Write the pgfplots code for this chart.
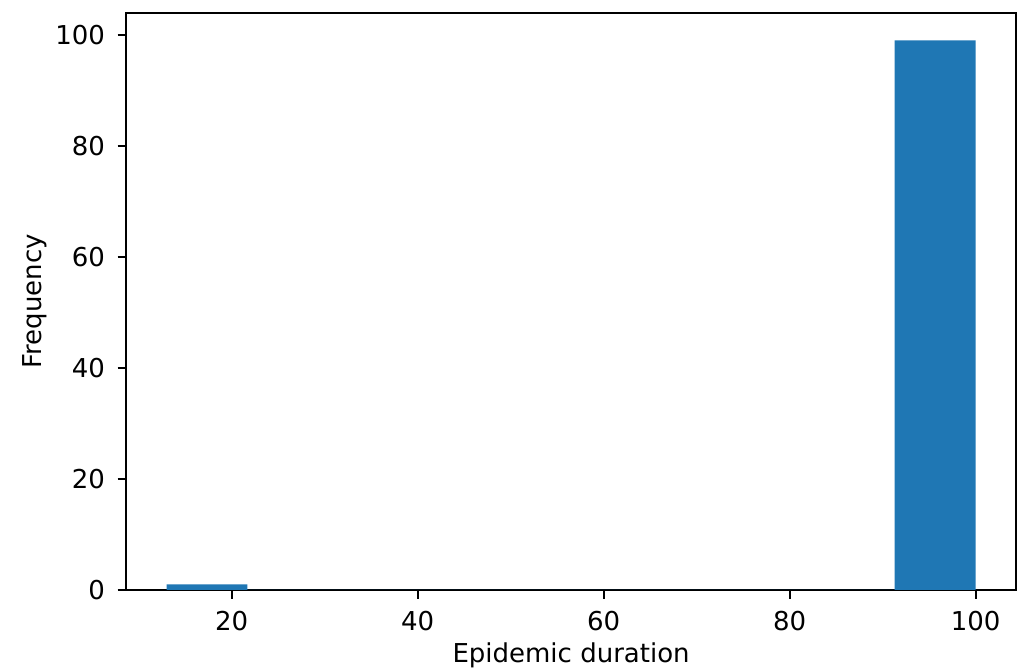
\documentclass[border=0pt]{standalone}
\usepackage{pgfplots}
\pgfplotsset{compat=1.18}
\usepackage{fontspec}
\setmainfont{DejaVu Sans}
\definecolor{mplblue}{HTML}{1F77B4}
\begin{document}
\fontsize{10pt}{12pt}\selectfont
\begin{tikzpicture}
\begin{axis}[
  name=ax,
  scale only axis,
  width=342.3pt, height=221.9pt,
  xmin=8.65, xmax=104.35,
  ymin=0, ymax=103.95,
  xtick={20,40,60,80,100},
  ytick={0,20,40,60,80,100},
  tick align=outside,
  major tick length=3.3pt,
  tick style={line width=0.8pt, black},
  axis line style={line width=0.8pt},
  xtick pos=bottom, ytick pos=left,
  /pgf/number format/assume math mode=true,
  ticklabel style={font=\fontsize{10pt}{12pt}\selectfont},
  xticklabel style={yshift=-1.5pt},
  yticklabel style={xshift=-1.3pt},
  every axis x label/.style={at={(axis description cs:0.5,0)}, yshift=-25.3pt, anchor=center, font=\fontsize{10pt}{12pt}\selectfont},
  every axis y label/.style={at={(axis description cs:0,0.5)}, xshift=-35pt, rotate=90, anchor=center, font=\fontsize{10pt}{12pt}\selectfont},
  xlabel={Epidemic duration},
  ylabel={Frequency},
]
\addplot[ybar interval, fill=mplblue, draw=none] coordinates {
  (13,1) (21.7,0) (30.4,0) (39.1,0) (47.8,0) (56.5,0)
  (65.2,0) (73.9,0) (82.6,0) (91.3,99) (100,99)
};
\end{axis}
\pgfresetboundingbox
\path ([shift={(-48.5pt,-31.2pt)}]ax.south west) rectangle ([shift={(1.9pt,5pt)}]ax.north east);
\end{tikzpicture}
\end{document}
